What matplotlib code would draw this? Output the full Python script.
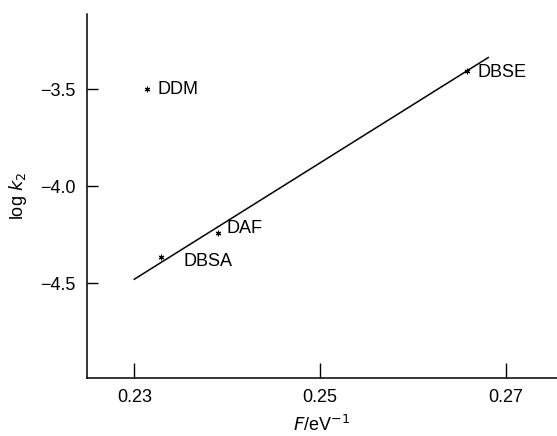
import numpy as np
import matplotlib.pyplot as plt

plt.rcParams['font.family'] = ['Liberation Sans', 'DejaVu Sans']

names = ['DDM', 'DBSA', 'DAF', 'DBSE']
F = [0.2314, 0.2329, 0.2390, 0.2658]
logk2 = [-3.50, -4.366, -4.242, -3.407]

# least-squares line as drawn (excluding DDM)
line_x = np.array([0.230, 0.2681])
line_y = np.array([-4.48, -3.335])

fig = plt.figure(figsize=(5.57, 4.36), dpi=100)
ax = fig.add_axes([0.156, 0.133, 0.844, 0.835])

ax.plot(line_x, line_y, color='black', lw=1.1)
ax.plot(F, logk2, linestyle='none', marker=(6, 2, 0), markersize=4,
        color='black', markeredgewidth=0.8)

offsets = {'DDM': (7, 0), 'DBSA': (16, -3), 'DAF': (6, 3), 'DBSE': (8, -1)}
for n, x, y in zip(names, F, logk2):
    ax.annotate(n, (x, y), xytext=offsets[n], textcoords='offset points',
                fontsize=13, va='center', ha='left')

ax.set_xlim(0.2249, 0.2755)
ax.set_ylim(-4.99, -3.11)
ax.set_xticks([0.23, 0.25, 0.27])
ax.set_xticklabels(['0.23', '0.25', '0.27'])
ax.set_yticks([-3.5, -4.0, -4.5])
ax.set_yticklabels(['\u22123.5', '\u22124.0', '\u22124.5'])
ax.tick_params(axis='x', direction='in', length=11, width=1, labelsize=13, pad=8)
ax.tick_params(axis='y', direction='in', length=8, width=1, labelsize=13, pad=8)

for s in ['top', 'right']:
    ax.spines[s].set_visible(False)
for s in ['left', 'bottom']:
    ax.spines[s].set_linewidth(1.1)

ax.set_xlabel(r'$F$/eV$^{-1}$', fontsize=13, labelpad=6)
ax.set_ylabel(r'log $k_2$', fontsize=13, labelpad=8)

fig.savefig('out.png', dpi=100)
